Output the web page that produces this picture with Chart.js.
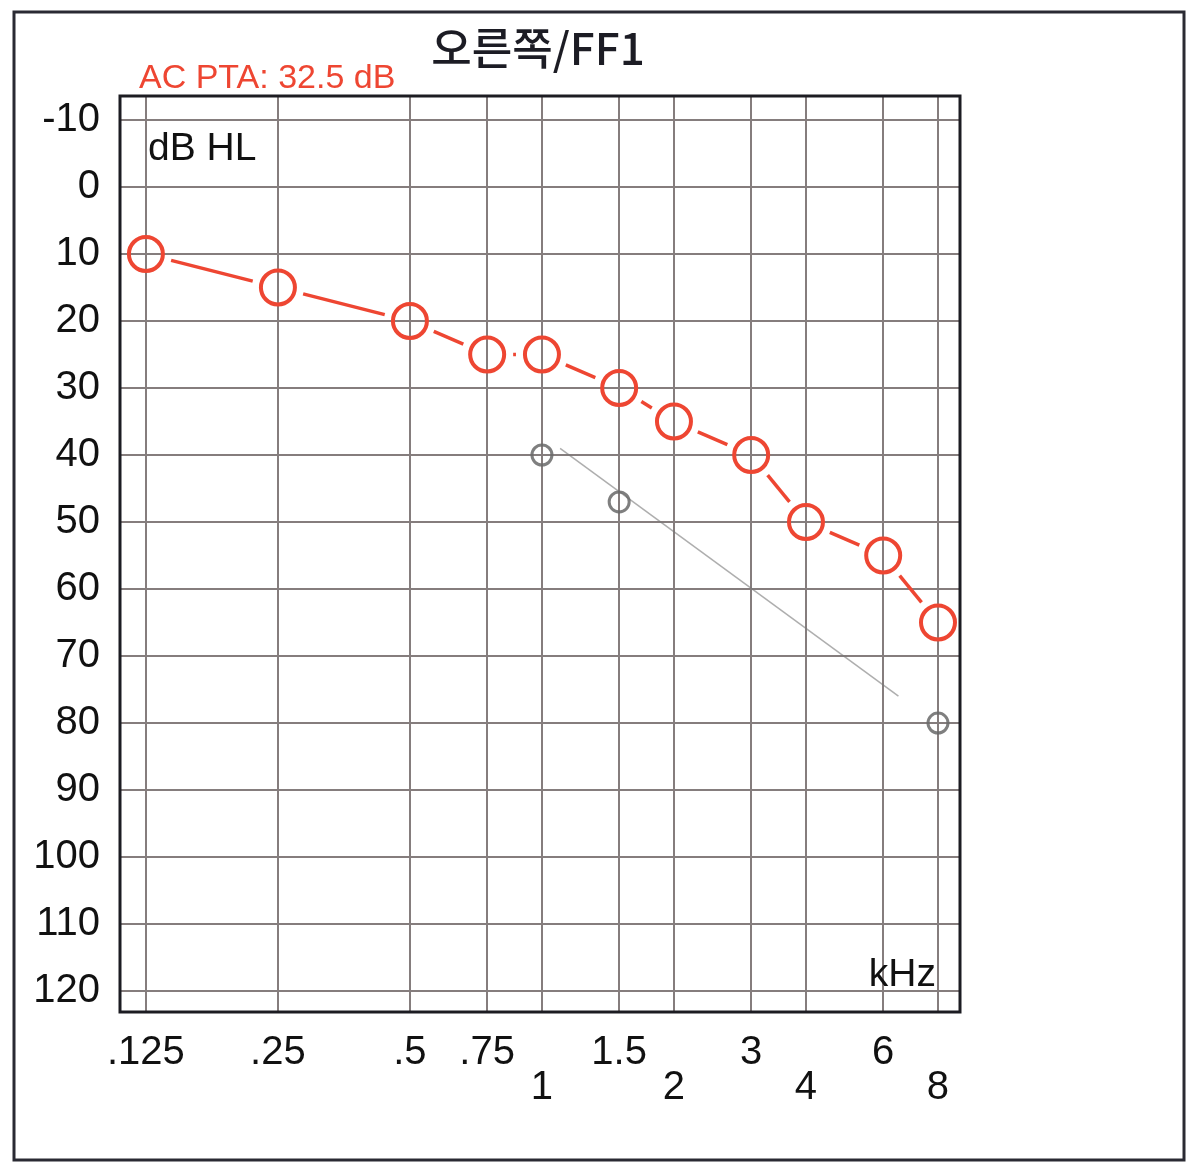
<!DOCTYPE html>
<html>
<head>
<meta charset="utf-8">
<script src="https://cdn.jsdelivr.net/npm/chart.js@4/dist/chart.umd.min.js"></script>
<style>
  html, body { margin: 0; padding: 0; background: #fff; }
  #wrap { width: 1193px; height: 1170px; position: relative; }
</style>
</head>
<body>
<div id="wrap"><canvas id="audiogram" width="1193" height="1170"></canvas></div>
<script>
// frequencies (kHz) and right ear AC thresholds (dB HL)
const freqs = [0.125, 0.25, 0.5, 0.75, 1, 1.5, 2, 3, 4, 6, 8];
const freqLabels = ['.125', '.25', '.5', '.75', '1', '1.5', '2', '3', '4', '6', '8'];
const lowerRow = ['1', '2', '4', '8']; // printed on the second label row
const rightAC = [10, 15, 20, 25, 25, 30, 35, 40, 50, 55, 65];
const dbTicks = [-10, 0, 10, 20, 30, 40, 50, 60, 70, 80, 90, 100, 110, 120];

// pencil marks on the sheet
const pencilFreqs = [1, 1.5, 8];
const pencilDb = [40, 47, 80];
const pencilLineFreqs = [1.1, 6.5];
const pencilLineDb = [39, 76];

const RED = '#ee4632';
const GAP = 26; // line stops short of each circle
const FONT = '"Liberation Sans", Arial, sans-serif';

// frame + free text on the sheet
const sheetText = {
  id: 'sheetText',
  beforeDraw(chart) {
    const c = chart.ctx;
    c.save();
    c.fillStyle = '#fff';
    c.fillRect(0, 0, chart.width, chart.height);
    c.restore();
  },
  afterDraw(chart) {
    const c = chart.ctx, a = chart.chartArea;
    c.save();
    // outer frame
    c.strokeStyle = '#2a2a33';
    c.lineWidth = 3;
    c.strokeRect(14, 12, 1170, 1148);
    // plot frame
    c.strokeStyle = '#1c1c22';
    c.lineWidth = 3;
    c.strokeRect(a.left, a.top, a.right - a.left, a.bottom - a.top);
    // title
    c.fillStyle = '#1c1c24';
    c.textAlign = 'center';
    c.textBaseline = 'middle';
    c.font = '500 44px "Noto Sans CJK KR", "Noto Sans", sans-serif';
    c.fillText('오른쪽/FF1', 538, 48);
    // PTA
    c.fillStyle = RED;
    c.textAlign = 'left';
    c.font = '34px ' + FONT;
    c.fillText('AC PTA: 32.5 dB', 139, 79);
    // unit labels
    c.fillStyle = '#111';
    c.font = '39px ' + FONT;
    c.fillText('dB HL', 148, 149);
    c.textAlign = 'right';
    c.fillText('kHz', 936, 975);
    c.restore();
  }
};

const ctx = document.getElementById('audiogram').getContext('2d');
new Chart(ctx, {
  type: 'line',
  data: {
    datasets: [
      {
        label: 'Right AC',
        data: freqs.map((f, i) => ({ x: f, y: rightAC[i] })),
        borderColor: RED,
        borderWidth: 3.5,
        pointRadius: 17,
        pointBorderWidth: 4,
        pointBorderColor: RED,
        pointBackgroundColor: 'rgba(0,0,0,0)',
        pointStyle: 'circle',
        tension: 0,
        segment: {
          borderDash: s => {
            const len = Math.hypot(s.p1.x - s.p0.x, s.p1.y - s.p0.y);
            return [0, GAP, Math.max(len - 2 * GAP, 0), GAP];
          }
        },
        order: 1
      },
      {
        label: 'pencil line',
        data: pencilLineFreqs.map((f, i) => ({ x: f, y: pencilLineDb[i] })),
        borderColor: 'rgba(120,120,120,0.6)',
        borderWidth: 1.5,
        pointRadius: 0,
        order: 3
      },
      {
        label: 'pencil',
        data: pencilFreqs.map((f, i) => ({ x: f, y: pencilDb[i] })),
        showLine: false,
        pointRadius: 10,
        pointBorderWidth: 3,
        pointBorderColor: 'rgba(105,105,105,0.85)',
        pointBackgroundColor: 'rgba(0,0,0,0)',
        order: 2
      }
    ]
  },
  options: {
    responsive: false,
    animation: false,
    events: [],
    layout: { padding: { left: 15, right: 233, top: 96, bottom: 58 } },
    plugins: {
      legend: { display: false },
      tooltip: { enabled: false },
      title: { display: false }
    },
    scales: {
      x: {
        type: 'logarithmic',
        min: 0.1091,
        max: 8.98,
        afterBuildTicks: s => { s.ticks = freqs.map(v => ({ value: v })); },
        afterFit: s => { s.height = 100; },
        grid: { color: '#857d7d', lineWidth: 2, drawTicks: false },
        border: { display: false },
        ticks: {
          autoSkip: false,
          maxRotation: 0,
          minRotation: 0,
          padding: 23,
          color: '#111',
          font: { family: FONT, size: 40, lineHeight: 0.875 },
          callback: (v, i) => {
            const t = freqLabels[i];
            return lowerRow.includes(t) ? ['', t] : [t];
          }
        }
      },
      y: {
        type: 'linear',
        reverse: true,
        min: -13.58,
        max: 123.13,
        afterBuildTicks: s => { s.ticks = dbTicks.map(v => ({ value: v })); },
        afterFit: s => { s.width = 105; },
        grid: { color: '#857d7d', lineWidth: 2, drawTicks: false },
        border: { display: false },
        ticks: {
          padding: 20,
          color: '#111',
          font: { family: FONT, size: 40 }
        }
      }
    }
  },
  plugins: [sheetText]
});
</script>
</body>
</html>
